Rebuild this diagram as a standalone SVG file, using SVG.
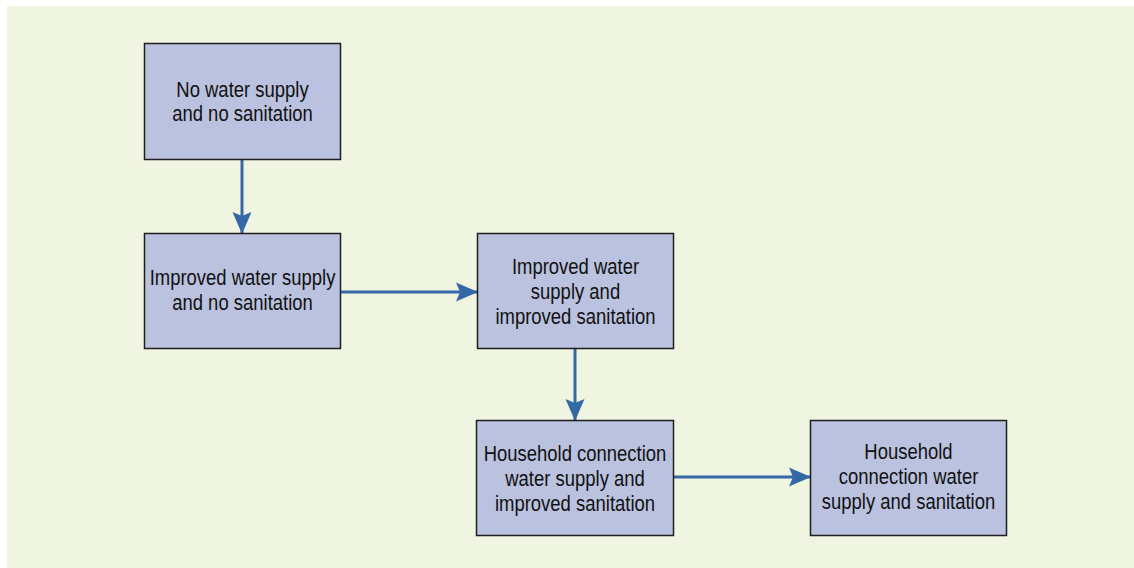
<svg xmlns="http://www.w3.org/2000/svg" width="1134" height="568" viewBox="0 0 1134 568">
  <style>
    .panel { fill: #f0f5e1; }
    .box { fill: #bac2df; stroke: #1e1e1e; stroke-width: 1.5; }
    .label { font-family: "Liberation Sans", Arial, sans-serif; font-size: 22px; fill: #111; text-anchor: middle; }
    .link { stroke: #3568a6; stroke-width: 3; fill: none; }
  </style>
  <defs>
    <marker id="head" markerUnits="userSpaceOnUse" markerWidth="22" markerHeight="20" refX="21" refY="9.5" orient="auto" viewBox="0 0 22 19">
      <path d="M0,0 L22,9.5 L0,19 L4,9.5 Z" fill="#3568a6"/>
    </marker>
  </defs>

  <rect class="panel" x="7" y="6" width="1127" height="562"/>

  <g id="connectors">
    <line class="link" x1="242" y1="160" x2="242" y2="233" marker-end="url(#head)"/>
    <line class="link" x1="341" y1="292" x2="477" y2="292" marker-end="url(#head)"/>
    <line class="link" x1="575" y1="349" x2="575" y2="420" marker-end="url(#head)"/>
    <line class="link" x1="674" y1="477" x2="810" y2="477" marker-end="url(#head)"/>
  </g>

  <g id="no-supply">
    <rect class="box" x="144.5" y="43.5" width="196" height="116"/>
    <g transform="translate(242.5,0) scale(0.84,1)">
      <text class="label" x="0" y="97">No water supply</text>
      <text class="label" x="0" y="121">and no sanitation</text>
    </g>
  </g>

  <g id="improved-supply">
    <rect class="box" x="144.5" y="233.5" width="196" height="115"/>
    <g transform="translate(242.5,0) scale(0.84,1)">
      <text class="label" x="0" y="285">Improved water supply</text>
      <text class="label" x="0" y="310">and no sanitation</text>
    </g>
  </g>

  <g id="improved-both">
    <rect class="box" x="477.5" y="233.5" width="196" height="115"/>
    <g transform="translate(575.5,0) scale(0.84,1)">
      <text class="label" x="0" y="274">Improved water</text>
      <text class="label" x="0" y="299">supply and</text>
      <text class="label" x="0" y="324">improved sanitation</text>
    </g>
  </g>

  <g id="household-supply">
    <rect class="box" x="476.5" y="420.5" width="197" height="115"/>
    <g transform="translate(575,0) scale(0.84,1)">
      <text class="label" x="0" y="461">Household connection</text>
      <text class="label" x="0" y="486">water supply and</text>
      <text class="label" x="0" y="511">improved sanitation</text>
    </g>
  </g>

  <g id="household-both">
    <rect class="box" x="810.5" y="420.5" width="196" height="115"/>
    <g transform="translate(908.5,0) scale(0.84,1)">
      <text class="label" x="0" y="459">Household</text>
      <text class="label" x="0" y="484">connection water</text>
      <text class="label" x="0" y="509">supply and sanitation</text>
    </g>
  </g>
</svg>
